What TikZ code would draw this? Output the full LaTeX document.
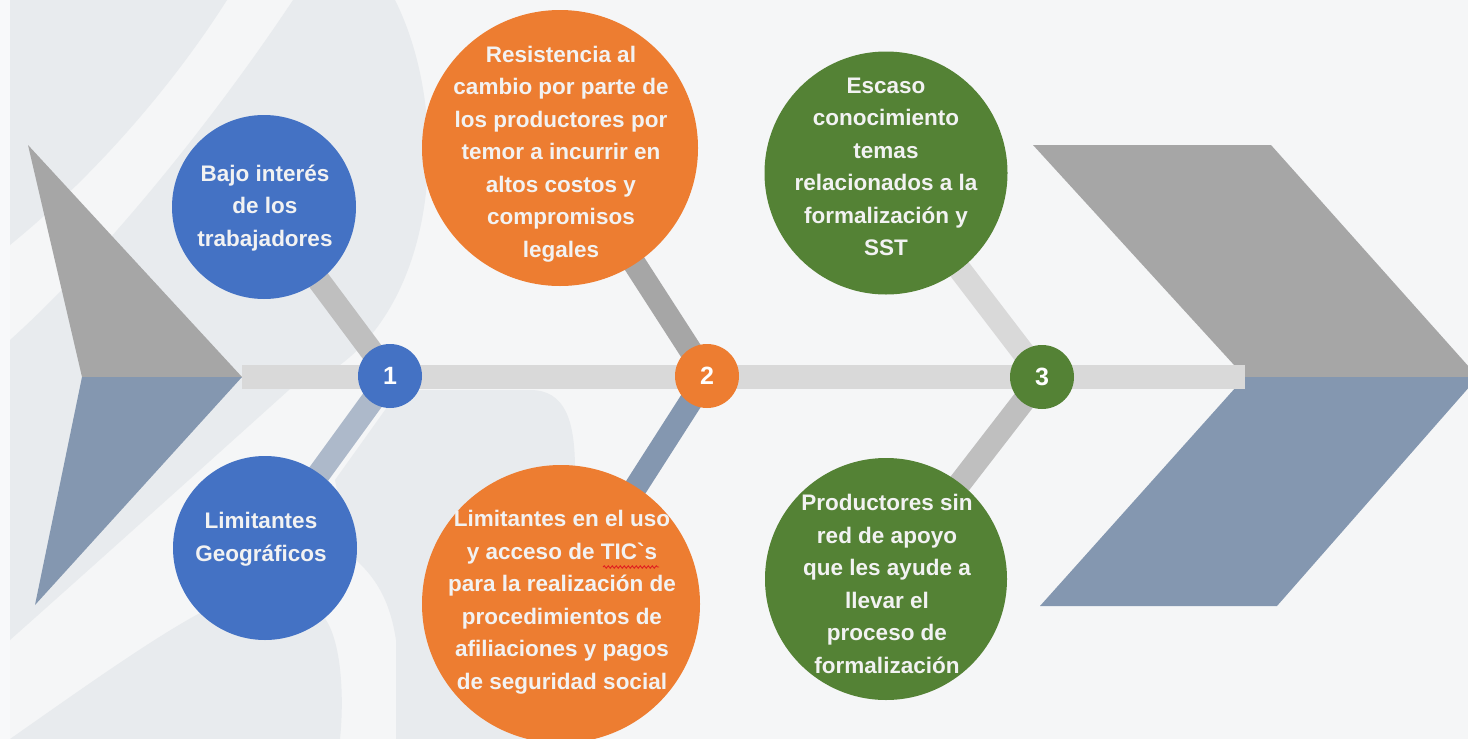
\documentclass[tikz,border=0pt]{standalone}
\usepackage{fontspec}
\setmainfont{Liberation Sans}
\usetikzlibrary{decorations.pathmorphing}
\definecolor{bgbase}{HTML}{F5F6F7}
\definecolor{bgstrip}{HTML}{F8F9FA}
\definecolor{bgdark}{HTML}{E8EBEE}
\definecolor{cgray}{HTML}{A6A6A6}
\definecolor{cslate}{HTML}{8497B0}
\definecolor{cspine}{HTML}{D9D9D9}
\definecolor{cblue}{HTML}{4472C4}
\definecolor{corange}{HTML}{ED7D31}
\definecolor{cgreen}{HTML}{548235}
\definecolor{boneA}{HTML}{BFBFBF}
\definecolor{boneB}{HTML}{ADB9CA}
\definecolor{txt}{HTML}{F2F2F2}
\definecolor{squig}{HTML}{E02020}
\pgfdeclarelayer{back}
\pgfsetlayers{back,main}
\begin{document}
\begin{tikzpicture}[x=1pt,y=-1pt,
  bone/.style={line width=23pt},
  bigc/.style={circle, inner sep=0pt, draw=none},
  bigt/.style={inner sep=0pt, text=txt, align=center, font=\bfseries\fontsize{22.5}{32.5}\selectfont},
  num/.style={circle, minimum size=64pt, inner sep=0pt, text=white, font=\bfseries\fontsize{25}{30}\selectfont},
  wavy/.style={squig, line width=0.9pt, decorate, decoration={snake, segment length=4pt, amplitude=1.2pt}}]
\useasboundingbox (0,0) rectangle (1468,739);
% big circles
\node[bigc, fill=cblue, minimum size=184pt] (c1a) at (264,207) {};
\node[bigc, fill=cblue, minimum size=184pt] (c1b) at (265,548) {};
\node[bigc, fill=corange, minimum size=276pt] (c2a) at (560,148) {};
\node[bigc, fill=corange, minimum size=278pt] (c2b) at (561,604) {};
\node[bigc, fill=cgreen, minimum size=243pt] (c3a) at (886,173) {};
\node[bigc, fill=cgreen, minimum size=242pt] (c3b) at (886,579) {};
% texts
\node[bigt] (t1a) at (265,208) {Bajo interés\\de los\\trabajadores};
\node[bigt] (t1b) at (261,539) {Limitantes\\Geográficos};
\node[bigt] (t2a) at (561,154) {Resistencia al\\cambio por parte de\\los productores por\\temor a incurrir en\\altos costos y\\compromisos\\legales};
\node[bigt] (t2b) at (562,602) {Limitantes en el uso\\y acceso de TIC\textasciigrave s\\para la realización de\\procedimientos de\\afiliaciones y pagos\\de seguridad social};
\node[bigt] (t3a) at (886,167) {Escaso\\conocimiento\\temas\\relacionados a la\\formalización y\\SST};
\node[bigt] (t3b) at (887,584) {Productores sin\\red de apoyo\\que les ayude a\\llevar el\\proceso de\\formalización};
% spell-check squiggle under TIC`s
\coordinate (w1) at (603,567);
\coordinate (w2) at (659,567);
\draw[wavy] (w1) -- (w2);
% number circles
\node[num, fill=cblue] (n1) at (390,376) {1};
\node[num, fill=corange] (n2) at (707,376) {2};
\node[num, fill=cgreen] (n3) at (1042,377) {3};
\begin{pgfonlayer}{back}
\clip (0,0) rectangle (1468,739);
% background
\fill[bgbase] (0,0) rectangle (1468,739);
\fill[bgstrip] (0,0) rectangle (10,739);
\fill[bgdark] (10,0) -- (227,0) .. controls (170,90) and (90,180) .. (10,245) -- cycle;
\fill[bgdark] (293,0) -- (395,0) .. controls (450,110) and (440,290) .. (340,365) -- (300,389) -- (10,389) -- (10,340) .. controls (110,250) and (220,110) .. (293,0) -- cycle;
\fill[bgdark] (10,389) -- (290,389) .. controls (200,470) and (100,560) .. (10,640) -- cycle;
\fill[bgdark] (10,739) .. controls (80,690) and (150,640) .. (200,613) -- (320,613) .. controls (340,630) and (345,690) .. (340,739) -- cycle;
\fill[bgdark] (335,480) -- (385,410) .. controls (398,393) and (405,390) .. (420,390) -- (530,390) .. controls (565,390) and (575,420) .. (575,470) -- (575,739) -- (396,739) -- (396,640) .. controls (390,600) and (375,575) .. (350,555) -- cycle;
% tail
\fill[cgray] (28,145) -- (242,377) -- (82,377) -- cycle;
\fill[cslate] (82,377) -- (242,377) -- (35,605) -- cycle;
% head
\fill[cgray] (1033,145) -- (1271,145) -- (1478,377) -- (1245,377) -- cycle;
\fill[cslate] (1245,377) -- (1478,377) -- (1277,606) -- (1040,606) -- cycle;
% spine
\fill[cspine] (242,365) rectangle (1245,389);
% bones
\draw[bone, boneA] (n1.center) -- (c1a.center);
\draw[bone, boneB] (n1.center) -- (c1b.center);
\draw[bone, cgray] (n2.center) -- (c2a.center);
\draw[bone, cslate] (n2.center) -- (c2b.center);
\draw[bone, cspine] (n3.center) -- (c3a.center);
\draw[bone, boneA] (n3.center) -- (c3b.center);
\end{pgfonlayer}
\end{tikzpicture}
\end{document}
